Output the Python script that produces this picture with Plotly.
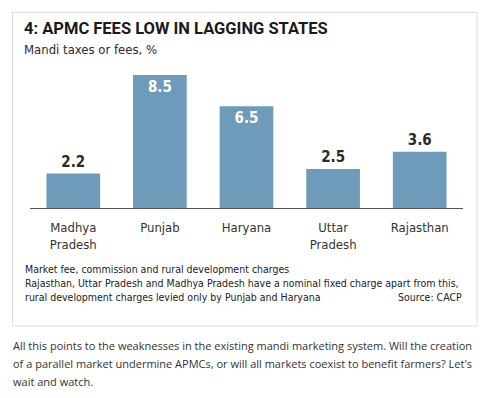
import plotly.graph_objects as go

states = ["Madhya<br>Pradesh", "Punjab", "Haryana", "Uttar<br>Pradesh", "Rajasthan"]
fees = [2.2, 8.5, 6.5, 2.5, 3.6]
label_pos = ["outside", "inside", "inside", "outside", "outside"]
label_col = ["#2a2a2a", "white", "white", "#2a2a2a", "#2a2a2a"]

W, H = 493, 398
L, R, T, B = 30, 463, 60, 208

fig = go.Figure(go.Bar(
    x=states, y=fees,
    marker=dict(color="#6f9bba", line=dict(width=0)),
    text=[f"{v:.1f}" for v in fees],
    textposition=label_pos,
    insidetextanchor="end",
    textfont=dict(family="DejaVu Sans Condensed", size=15, color=label_col, weight="bold"),
    cliponaxis=False,
    hoverinfo="skip",
))

def ax(x):
    return (x - L) / (R - L)

def ay(y):
    return (B - y) / (B - T)

fig.update_layout(
    width=W, height=H,
    margin=dict(l=L, r=W - R, t=T, b=H - B, pad=0),
    paper_bgcolor="white", plot_bgcolor="white",
    showlegend=False,
    bargap=0.38,
    xaxis=dict(
        showline=True, linecolor="#555", linewidth=1, ticks="",
        tickfont=dict(family="DejaVu Sans Condensed", size=13, color="#333"),
        ticklabelstandoff=7,
        showgrid=False, fixedrange=True,
    ),
    yaxis=dict(range=[0, (B - T) / 15.65], visible=False, fixedrange=True),
    font=dict(family="DejaVu Sans Condensed"),
)

fig.add_shape(type="rect", xref="paper", yref="paper",
              x0=ax(12.5), x1=ax(477), y0=ay(326), y1=ay(12.5),
              line=dict(color="#dddddd", width=1), fillcolor="rgba(0,0,0,0)", layer="below")

def note(x, y, text, size, color, family, xanchor="left", weight="normal"):
    fig.add_annotation(xref="paper", yref="paper", x=ax(x), y=ay(y),
                       text=text, showarrow=False, xanchor=xanchor, yanchor="middle",
                       align=xanchor,
                       font=dict(size=size, color=color, family=family, weight=weight))

note(22, 28, "4: APMC FEES LOW IN LAGGING STATES", 16.5, "#1a1a1a", "Roboto", weight="bold")
note(22, 49, "Mandi taxes or fees, %", 13, "#2a2a2a", "DejaVu Sans Condensed")

fn = "DejaVu Sans Condensed"
note(23, 269, "Market fee, commission and rural development charges", 10.5, "#222", fn)
note(23, 283, "Rajasthan, Uttar Pradesh and Madhya Pradesh have a nominal fixed charge apart from this,", 10.5, "#222", fn)
note(23, 297, "rural development charges levied only by Punjab and Haryana", 10.5, "#222", fn)
note(464, 297, "Source: CACP", 10.5, "#222", fn, xanchor="right")

note(11, 345, "All this points to the weaknesses in the existing mandi marketing system. Will the creation", 11, "#333", "Open Sans")
note(11, 363, "of a parallel market undermine APMCs, or will all markets coexist to benefit farmers? Let's", 11, "#333", "Open Sans")
note(11, 381, "wait and watch.", 11, "#333", "Open Sans")

fig.write_html("out.html", config={"displayModeBar": False},
               post_script="document.body.style.margin='0';document.body.style.overflow='hidden';")
